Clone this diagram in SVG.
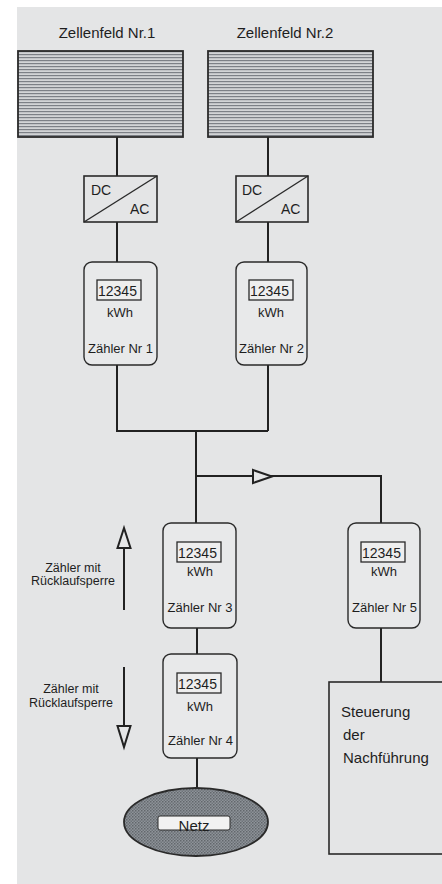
<svg xmlns="http://www.w3.org/2000/svg" width="442" height="884" viewBox="0 0 442 884">
<style>
text{font-family:"Liberation Sans",Arial,sans-serif;fill:#1e1e1e}
.t15{font-size:15px}
.t13{font-size:13px}
.t14{font-size:14px}
.t12{font-size:12.5px}
.box{fill:none;stroke:#2a2a2a;stroke-width:1.6}
.meter{fill:#e8e9ea;stroke:#2a2a2a;stroke-width:1.4}
.disp{fill:#eeeeee;stroke:#2a2a2a;stroke-width:1.3}
.wire{fill:none;stroke:#222;stroke-width:2}
.head{fill:#e6e7e8;stroke:#222;stroke-width:2;stroke-linejoin:miter}
</style>
<defs>
<pattern id="hatch" x="0" y="0" width="6" height="3" patternUnits="userSpaceOnUse">
<rect width="6" height="3" fill="#d2d4d6"/>
<rect y="0" width="6" height="1.2" fill="#7c8086"/>
</pattern>
<pattern id="dots" x="0" y="0" width="3" height="3" patternUnits="userSpaceOnUse">
<rect width="3" height="3" fill="#8e9399"/>
<rect width="1.5" height="1.5" fill="#62676c"/>
<rect x="1.5" y="1.5" width="1.5" height="1.5" fill="#6e7479"/>
</pattern>
</defs>
<rect width="442" height="884" fill="#ffffff"/>
<rect x="17" y="7" width="425" height="877" fill="#e4e5e6"/>

<g id="connectors">
<path class="wire" d="M117 137V176M117 222V262M117 365V431H268M268 137V176M268 222V262M268 365V431"/>
<path class="wire" d="M196 431V523M196 476H381V523"/>
<polygon class="head" points="253,470 253,483 272,476.5"/>
<path class="wire" d="M197 628V654M197 758V788M381 628V682"/>
</g>

<g id="zellenfeld1">
<text class="t15" x="107" y="38" text-anchor="middle">Zellenfeld Nr.1</text>
<rect x="18" y="51" width="165" height="86" fill="url(#hatch)" stroke="#2a2a2a" stroke-width="1.8"/>
</g>
<g id="zellenfeld2">
<text class="t15" x="285" y="38" text-anchor="middle">Zellenfeld Nr.2</text>
<rect x="208" y="51" width="165" height="86" fill="url(#hatch)" stroke="#2a2a2a" stroke-width="1.8"/>
</g>

<g id="wr1">
<rect class="box" x="84" y="176" width="73" height="46"/>
<line x1="84" y1="222" x2="157" y2="176" stroke="#2a2a2a" stroke-width="1.4"/>
<text class="t14" x="91" y="195">DC</text>
<text class="t14" x="130" y="214">AC</text>
</g>
<g id="wr2">
<rect class="box" x="236" y="176" width="72" height="46"/>
<line x1="236" y1="222" x2="308" y2="176" stroke="#2a2a2a" stroke-width="1.4"/>
<text class="t14" x="242" y="195">DC</text>
<text class="t14" x="281" y="214">AC</text>
</g>

<g id="zaehler1">
<rect class="meter" x="84" y="262" width="73" height="103" rx="8"/>
<rect class="disp" x="97" y="280" width="44" height="20"/>
<text class="t14" x="98" y="295.5">12345</text>
<text class="t13" x="120" y="317" text-anchor="middle">kWh</text>
<text class="t13" x="120.5" y="353" text-anchor="middle">Zähler Nr 1</text>
</g>
<g id="zaehler2">
<rect class="meter" x="236" y="262" width="71" height="103" rx="8"/>
<rect class="disp" x="249" y="280" width="44" height="20"/>
<text class="t14" x="250" y="295.5">12345</text>
<text class="t13" x="271" y="317" text-anchor="middle">kWh</text>
<text class="t13" x="271.5" y="353" text-anchor="middle">Zähler Nr 2</text>
</g>
<g id="zaehler3">
<rect class="meter" x="163" y="523" width="73" height="105" rx="8"/>
<rect class="disp" x="177" y="542" width="44" height="20"/>
<text class="t14" x="178" y="557.5">12345</text>
<text class="t13" x="200" y="576" text-anchor="middle">kWh</text>
<text class="t13" x="200" y="612" text-anchor="middle">Zähler Nr 3</text>
</g>
<g id="zaehler5">
<rect class="meter" x="348" y="523" width="72" height="105" rx="8"/>
<rect class="disp" x="361" y="542" width="44" height="20"/>
<text class="t14" x="362" y="557.5">12345</text>
<text class="t13" x="384" y="576" text-anchor="middle">kWh</text>
<text class="t13" x="384.5" y="612" text-anchor="middle">Zähler Nr 5</text>
</g>
<g id="zaehler4">
<rect class="meter" x="163" y="654" width="74" height="104" rx="8"/>
<rect class="disp" x="177" y="673" width="44" height="20"/>
<text class="t14" x="178" y="688.5">12345</text>
<text class="t13" x="200" y="711" text-anchor="middle">kWh</text>
<text class="t13" x="200.5" y="745" text-anchor="middle">Zähler Nr 4</text>
</g>

<g id="ruecklauf1">
<path class="wire" d="M124 610V548"/>
<polygon class="head" points="124,528 117.5,548 130.5,548"/>
<text class="t12" x="73" y="572" text-anchor="middle">Zähler mit</text>
<text class="t12" x="73" y="585" text-anchor="middle">Rücklaufsperre</text>
</g>
<g id="ruecklauf2">
<path class="wire" d="M124 667V726"/>
<polygon class="head" points="117.5,726 130.5,726 124,747"/>
<text class="t12" x="71" y="693" text-anchor="middle">Zähler mit</text>
<text class="t12" x="71" y="707" text-anchor="middle">Rücklaufsperre</text>
</g>

<g id="netz">
<ellipse cx="196" cy="822" rx="72" ry="34" fill="url(#dots)" stroke="#2a2a2a" stroke-width="1.8"/>
<rect x="158" y="816" width="72" height="14" rx="2" fill="#f2f2f2" stroke="#2a2a2a" stroke-width="1"/>
<text class="t15" x="194" y="831" text-anchor="middle">Netz</text>
</g>

<g id="steuerung">
<rect class="box" x="329" y="682" width="130" height="172" stroke-width="2"/>
<text class="t15" x="341" y="717">Steuerung</text>
<text class="t15" x="343" y="740">der</text>
<text class="t15" x="343" y="763">Nachführung</text>
</g>
</svg>
